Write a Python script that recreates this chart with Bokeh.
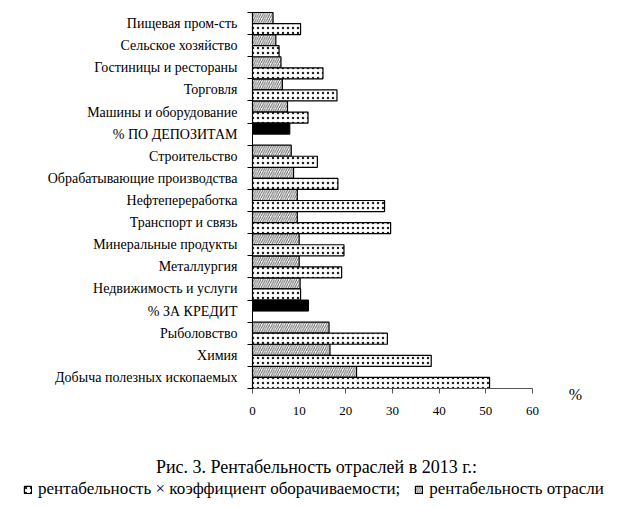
from bokeh.plotting import figure
from bokeh.models import FixedTicker, Range1d, Label, Legend, LegendItem, ColumnDataSource
from bokeh.embed import file_html
from bokeh.resources import INLINE

# Categories, top to bottom
categories = [
    "Пищевая пром-сть", "Сельское хозяйство", "Гостиницы и рестораны", "Торговля",
    "Машины и оборудование", "% ПО ДЕПОЗИТАМ", "Строительство",
    "Обрабатывающие производства", "Нефтепереработка", "Транспорт и связь",
    "Минеральные продукты", "Металлургия", "Недвижимость и услуги", "% ЗА КРЕДИТ",
    "Рыболовство", "Химия", "Добыча полезных ископаемых",
]
# рентабельность отрасли (hatched)
industry_profit = [4.4, 5.0, 6.1, 6.4, 7.5, None, 8.3, 8.8, 9.6, 9.6, 10.0, 10.0, 10.2, None, 16.4, 16.6, 22.3]
# рентабельность × коэффициент оборачиваемости (dotted)
profit_x_turnover = [10.3, 5.7, 15.1, 18.1, 11.9, None, 13.9, 18.3, 28.3, 29.6, 19.6, 19.1, 10.3, None, 28.9, 38.3, 50.8]
# interest rates (black)
rates = [None, None, None, None, None, 8.0, None, None, None, None, None, None, None, 12.0, None, None, None]

x_ticks = [0, 10, 20, 30, 40, 50, 60]
caption = "Рис. 3. Рентабельность отраслей в 2013 г.:"
legend_dotted = "рентабельность × коэффициент оборачиваемости;"
legend_hatched = "рентабельность отрасли"

FONT = "Liberation Serif"
n = len(categories)
centers = [n - i - 0.5 for i in range(n)]

hat = dict(y=[], v=[])
dot = dict(y=[], v=[])
blk = dict(y=[], v=[])
for c, a, b, r in zip(centers, industry_profit, profit_x_turnover, rates):
    if a is not None:
        hat["y"].append(c + 0.25); hat["v"].append(a)
    if b is not None:
        dot["y"].append(c - 0.25); dot["v"].append(b)
    if r is not None:
        blk["y"].append(c + 0.25); blk["v"].append(r)

# layout in pixels: plot area x 252..532 (0..60), y 12..388 (17..0)
W, H = 624, 508
X0, X1, Y0, Y1 = 252, 532, 388, 12
ppx = (X1 - X0) / 60.0
ppy = (Y0 - Y1) / n
x_range = Range1d(-X0 / ppx, (W - X0) / ppx)
y_range = Range1d(-(H - Y0) / ppy, n + Y1 / ppy)

p = figure(width=W, height=H, x_range=x_range, y_range=y_range,
           output_backend="svg", toolbar_location=None,
           min_border_left=0, min_border_right=0, min_border_top=0, min_border_bottom=0)
p.outline_line_color = None
p.xgrid.visible = False
p.ygrid.visible = False
p.background_fill_color = "white"
p.border_fill_color = "white"

r_hat = p.hbar(y="y", right="v", left=0, height=0.5, source=ColumnDataSource(hat),
               fill_color="white", line_color="black", line_width=1.2,
               hatch_pattern="right_diagonal_line", hatch_color="#666666", hatch_scale=4.5, hatch_weight=1)
r_dot = p.hbar(y="y", right="v", left=0, height=0.5, source=ColumnDataSource(dot),
               fill_color="white", line_color="black", line_width=1.2,
               hatch_pattern="dot", hatch_color="#222222", hatch_scale=5, hatch_weight=1)
p.hbar(y="y", right="v", left=0, height=0.5, source=ColumnDataSource(blk),
       fill_color="black", line_color="black")

# y axis: labels at centers, ticks at boundaries
ya = p.yaxis[0]
ya.fixed_location = 0
ya.bounds = (0, n)
ya.ticker = FixedTicker(ticks=centers, minor_ticks=list(range(n + 1)))
ya.major_label_overrides = {c: lab for c, lab in zip(centers, categories)}
ya.major_tick_out = 0
ya.major_tick_in = 0
ya.minor_tick_out = 5
ya.minor_tick_in = 0
ya.major_label_standoff = 10
ya.major_label_text_font = FONT
ya.major_label_text_font_size = "14px"
ya.major_label_text_color = "black"
ya.axis_line_color = "black"
ya.minor_tick_line_color = "black"

xa = p.xaxis[0]
xa.fixed_location = 0
xa.bounds = (0, 60)
xa.ticker = FixedTicker(ticks=x_ticks)
xa.minor_tick_line_color = None
xa.major_tick_out = 5
xa.major_tick_in = 0
xa.major_label_standoff = 13
xa.major_label_text_font = FONT
xa.major_label_text_font_size = "13px"
xa.major_label_text_color = "black"
xa.axis_line_color = "#555555"
xa.major_tick_line_color = "#555555"

p.add_layout(Label(x=(575 - X0) / ppx, y=-(394 - Y0) / ppy, text="%",
                   text_font=FONT, text_font_size="16px", text_align="center",
                   text_baseline="middle", text_color="black"))
p.add_layout(Label(x=(316 - X0) / ppx, y=-(466 - Y0) / ppy, text=caption,
                   text_font=FONT, text_font_size="18px", text_align="center",
                   text_baseline="middle", text_color="black"))

legend = Legend(items=[LegendItem(label=legend_dotted, renderers=[r_dot]),
                       LegendItem(label=legend_hatched, renderers=[r_hat])],
                orientation="horizontal", location=(23, H - 499),
                label_text_font=FONT, label_text_font_size="17px", label_text_color="black",
                glyph_width=9, glyph_height=9, label_standoff=6, spacing=14,
                padding=0, margin=0, border_line_color=None, background_fill_alpha=0)
p.add_layout(legend)

open("out.html", "w").write(file_html(p, INLINE))
